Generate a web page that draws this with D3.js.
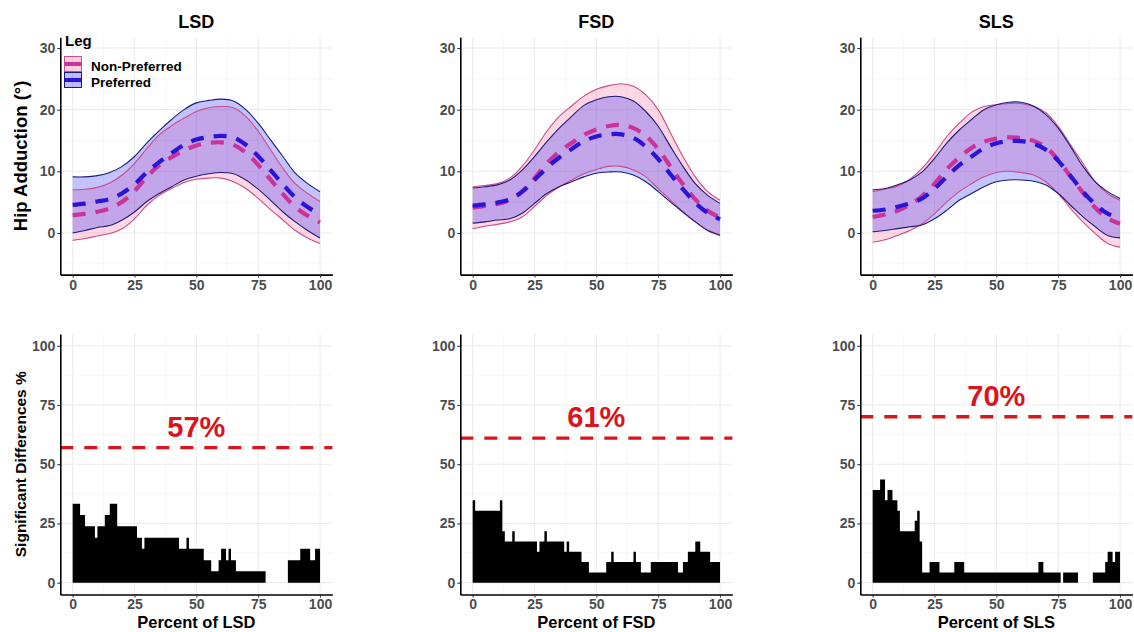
<!doctype html>
<html>
<head>
<meta charset="utf-8"/>
<title>Hip adduction LSD FSD SLS</title>
<script src="https://cdnjs.cloudflare.com/ajax/libs/d3/7.8.5/d3.min.js"></script>
<style>
  body { margin: 0; background: #fff; }
  text { font-family: "Liberation Sans", Arial, sans-serif; font-weight: bold; }
</style>
</head>
<body>
<svg width="1134" height="632"></svg>
<script>
// ---- data ----
var tasks = ["LSD", "FSD", "SLS"];
var legs = ["Non-Preferred", "Preferred"];
var pct = [0, 5, 10, 15, 20, 25, 30, 35, 40, 45, 50, 55, 60, 65, 70, 75, 80, 85, 90, 95, 100];

var lsdPrefMean = [4.55, 4.75, 5.1, 5.5, 6.45, 7.9, 9.85, 11.5, 12.95, 14.3, 15.15, 15.55, 15.75, 15.5, 14.3, 12.45, 10.2, 7.9, 5.75, 4.2, 2.95];
var lsdPrefSd   = [4.55, 4.35, 4.2, 4.3, 4.35, 4.5, 4.75, 5.1, 5.45, 5.7, 5.95, 5.95, 5.95, 5.9, 5.7, 5.35, 4.9, 4.5, 3.95, 3.8, 3.75];
var lsdNonMean  = [2.9, 3.1, 3.45, 4.0, 5.05, 6.8, 9.1, 11.0, 12.3, 13.4, 14.2, 14.6, 14.7, 14.3, 13.05, 11.05, 8.65, 6.3, 4.2, 2.8, 1.7];
var lsdNonSd    = [4.1, 4.0, 3.95, 4.1, 4.35, 4.5, 4.6, 4.9, 5.1, 5.2, 5.5, 5.7, 5.8, 6.0, 5.85, 5.45, 4.85, 4.2, 3.8, 3.6, 3.4];

var fsdPrefMean = [4.45, 4.65, 4.95, 5.45, 6.7, 8.6, 10.6, 12.25, 13.6, 14.9, 15.65, 16.0, 16.0, 15.4, 14.0, 12.0, 9.5, 7.1, 4.9, 3.25, 2.2];
var fsdPrefSd   = [2.85, 2.85, 2.85, 3.15, 3.5, 3.8, 4.2, 4.75, 5.3, 5.8, 5.95, 6.1, 6.1, 6.0, 5.7, 5.3, 4.5, 3.7, 3.1, 2.85, 2.6];
var fsdNonMean  = [4.1, 4.4, 4.7, 5.35, 6.7, 8.9, 11.3, 13.2, 14.6, 15.9, 16.8, 17.35, 17.5, 17.0, 15.75, 13.6, 10.75, 7.9, 5.45, 3.6, 2.5];
var fsdNonSd    = [3.4, 3.3, 3.3, 3.55, 4.1, 4.6, 5.2, 5.7, 6.0, 6.3, 6.5, 6.55, 6.7, 6.8, 6.65, 6.4, 5.45, 4.5, 3.65, 3.1, 2.8];

var slsPrefMean = [3.6, 3.8, 4.25, 4.8, 5.6, 7.2, 9.15, 11.0, 12.4, 13.75, 14.55, 14.9, 14.9, 14.5, 13.5, 11.7, 9.25, 6.7, 4.65, 3.15, 2.4];
var slsPrefSd   = [3.4, 3.4, 3.55, 3.8, 4.3, 4.9, 5.45, 5.7, 6.0, 6.25, 6.25, 6.3, 6.3, 6.1, 5.7, 5.3, 4.75, 4.1, 3.65, 3.55, 3.2];
var slsNonMean  = [2.6, 3.0, 3.6, 4.55, 6.0, 8.0, 10.35, 12.25, 13.8, 14.8, 15.3, 15.5, 15.4, 14.95, 13.9, 11.85, 9.15, 6.55, 4.1, 2.35, 1.5];
var slsNonSd    = [4.1, 4.1, 4.0, 4.15, 4.5, 4.9, 5.3, 5.55, 5.8, 5.7, 5.5, 5.5, 5.6, 5.55, 5.6, 5.45, 5.15, 4.75, 4.2, 4.05, 3.8];

// % of significant differences per 1% of the movement (bins 0-1 ... 99-100)
var sigLSD = [33.3, 33.3, 33.3, 28.6, 28.6, 23.8, 23.8, 23.8, 23.8, 19.0,
              23.8, 23.8, 23.8, 28.6, 28.6, 33.3, 33.3, 33.3, 23.8, 23.8,
              23.8, 23.8, 23.8, 23.8, 23.8, 23.8, 19.0, 19.0, 14.3, 19.0,
              19.0, 19.0, 19.0, 19.0, 19.0, 19.0, 19.0, 19.0, 19.0, 19.0,
              19.0, 19.0, 19.0, 14.3, 14.3, 14.3, 19.0, 14.3, 14.3, 14.3,
              14.3, 14.3, 14.3, 9.5, 9.5, 9.5, 4.8, 4.8, 4.8, 9.5,
              14.3, 14.3, 9.5, 14.3, 9.5, 9.5, 4.8, 4.8, 4.8, 4.8,
              4.8, 4.8, 4.8, 4.8, 4.8, 4.8, 4.8, 4.8, 0, 0,
              0, 0, 0, 0, 0, 0, 0, 9.5, 9.5, 9.5,
              9.5, 9.5, 14.3, 14.3, 14.3, 14.3, 9.5, 9.5, 14.3, 14.3];
var sigFSD = [34.8, 30.4, 30.4, 30.4, 30.4, 30.4, 30.4, 30.4, 30.4, 30.4,
              30.4, 34.8, 21.7, 17.4, 17.4, 17.4, 21.7, 17.4, 17.4, 17.4,
              17.4, 17.4, 17.4, 17.4, 17.4, 17.4, 13.0, 17.4, 17.4, 21.7,
              17.4, 17.4, 17.4, 17.4, 17.4, 17.4, 17.4, 13.0, 17.4, 13.0,
              13.0, 13.0, 13.0, 13.0, 8.7, 8.7, 8.7, 4.3, 4.3, 4.3,
              4.3, 4.3, 4.3, 4.3, 8.7, 8.7, 13.0, 8.7, 8.7, 8.7,
              8.7, 8.7, 8.7, 8.7, 8.7, 13.0, 8.7, 8.7, 4.3, 4.3,
              4.3, 4.3, 8.7, 8.7, 8.7, 8.7, 8.7, 8.7, 8.7, 8.7,
              8.7, 8.7, 8.7, 4.3, 4.3, 8.7, 8.7, 13.0, 13.0, 13.0,
              17.4, 17.4, 13.0, 13.0, 13.0, 13.0, 8.7, 8.7, 8.7, 8.7];
var sigSLS = [39.1, 39.1, 39.1, 43.5, 43.5, 34.8, 39.1, 39.1, 34.8, 34.8,
              30.4, 21.7, 21.7, 21.7, 21.7, 21.7, 21.7, 26.1, 30.4, 17.4,
              4.3, 4.3, 4.3, 8.7, 8.7, 8.7, 8.7, 4.3, 4.3, 4.3,
              4.3, 4.3, 4.3, 8.7, 8.7, 8.7, 8.7, 4.3, 4.3, 4.3,
              4.3, 4.3, 4.3, 4.3, 4.3, 4.3, 4.3, 4.3, 4.3, 4.3,
              4.3, 4.3, 4.3, 4.3, 4.3, 4.3, 4.3, 4.3, 4.3, 4.3,
              4.3, 4.3, 4.3, 4.3, 4.3, 4.3, 4.3, 8.7, 8.7, 4.3,
              4.3, 4.3, 4.3, 4.3, 4.3, 4.3, 0, 4.3, 4.3, 4.3,
              4.3, 4.3, 4.3, 0, 0, 0, 0, 0, 0, 4.3,
              4.3, 4.3, 4.3, 4.3, 8.7, 13.0, 13.0, 8.7, 13.0, 13.0];
var sigTotal = [57, 61, 70];

var xTicks = [0, 25, 50, 75, 100];
var yTicksTop = [0, 10, 20, 30];
var yTicksBot = [0, 25, 50, 75, 100];

// ---- layout ----
var svg = d3.select("svg");
var panelLeft = [60.3, 460.3, 860.3], panelW = 272.1;
var topRange = [274.6, 37.2], botRange = [594.5, 333.9];

var yTop = d3.scaleLinear().domain([-6.75, 31.75]).range(topRange);
var yBot = d3.scaleLinear().domain([-5, 105]).range(botRange);

var legColor = { "Non-Preferred": { fill: "#ff6699", line: "#c94c8c", mean: "#cc3399" },
                 "Preferred":     { fill: "#2222ff", line: "#1c1c78", mean: "#2a14d8" } };

var curves = [
  { "Non-Preferred": [lsdNonMean, lsdNonSd], "Preferred": [lsdPrefMean, lsdPrefSd] },
  { "Non-Preferred": [fsdNonMean, fsdNonSd], "Preferred": [fsdPrefMean, fsdPrefSd] },
  { "Non-Preferred": [slsNonMean, slsNonSd], "Preferred": [slsPrefMean, slsPrefSd] }
];
var sigs = [sigLSD, sigFSD, sigSLS];

function drawGrid(g, xs, ys, xMinor, yMajor, yMinor) {
  var x0 = xs.range()[0], x1 = xs.range()[1], y0 = ys.range()[0], y1 = ys.range()[1];
  xMinor.forEach(function (v) {
    g.append("line").attr("x1", xs(v)).attr("x2", xs(v)).attr("y1", y0).attr("y2", y1)
      .attr("stroke", "#f2f2f2").attr("stroke-width", 0.6);
  });
  yMinor.forEach(function (v) {
    g.append("line").attr("y1", ys(v)).attr("y2", ys(v)).attr("x1", x0).attr("x2", x1)
      .attr("stroke", "#f2f2f2").attr("stroke-width", 0.6);
  });
  xTicks.forEach(function (v) {
    g.append("line").attr("x1", xs(v)).attr("x2", xs(v)).attr("y1", y0).attr("y2", y1)
      .attr("stroke", "#ebebeb").attr("stroke-width", 1.1);
  });
  yMajor.forEach(function (v) {
    g.append("line").attr("y1", ys(v)).attr("y2", ys(v)).attr("x1", x0).attr("x2", x1)
      .attr("stroke", "#ebebeb").attr("stroke-width", 1.1);
  });
}

function drawAxes(g, xs, ys, yTicks) {
  var xa = g.append("g").attr("transform", "translate(0," + ys.range()[0] + ")")
    .call(d3.axisBottom(xs).tickValues(xTicks).tickSize(3).tickSizeOuter(0).tickPadding(2));
  var ya = g.append("g").attr("transform", "translate(" + xs.range()[0] + ",0)")
    .call(d3.axisLeft(ys).tickValues(yTicks).tickSize(3).tickSizeOuter(0).tickPadding(2));
  [xa, ya].forEach(function (a) {
    a.select(".domain").attr("stroke", "#000").attr("stroke-width", 1.6);
    a.selectAll(".tick line").attr("stroke", "#333").attr("stroke-width", 1.1);
    a.selectAll(".tick text").attr("fill", "#4d4d4d").style("font-size", "14px")
      .style("font-family", "'Liberation Sans', Arial, sans-serif").style("font-weight", "bold");
  });
}

tasks.forEach(function (task, i) {
  var xs = d3.scaleLinear().domain([-5, 105]).range([panelLeft[i], panelLeft[i] + panelW]);
  var cx = panelLeft[i] + panelW / 2;

  // ---------- top row: mean +/- SD ----------
  var gt = svg.append("g");
  drawGrid(gt, xs, yTop, [12.5, 37.5, 62.5, 87.5], yTicksTop, [-5, 5, 15, 25]);

  legs.forEach(function (leg) {
    var m = curves[i][leg][0], s = curves[i][leg][1];
    var pts = pct.map(function (p, k) { return { p: p, m: m[k], s: s[k] }; });
    var area = d3.area().curve(d3.curveCatmullRom.alpha(0.5))
      .x(function (d) { return xs(d.p); })
      .y0(function (d) { return yTop(d.m - d.s); })
      .y1(function (d) { return yTop(d.m + d.s); });
    gt.append("path").attr("d", area(pts))
      .attr("fill", legColor[leg].fill).attr("fill-opacity", 0.27).attr("stroke", "none");
  });
  legs.forEach(function (leg) {
    var m = curves[i][leg][0], s = curves[i][leg][1];
    var pts = pct.map(function (p, k) { return { p: p, m: m[k], s: s[k] }; });
    var up = d3.line().curve(d3.curveCatmullRom.alpha(0.5))
      .x(function (d) { return xs(d.p); }).y(function (d) { return yTop(d.m + d.s); });
    var lo = d3.line().curve(d3.curveCatmullRom.alpha(0.5))
      .x(function (d) { return xs(d.p); }).y(function (d) { return yTop(d.m - d.s); });
    [up, lo].forEach(function (ln) {
      gt.append("path").attr("d", ln(pts)).attr("fill", "none")
        .attr("stroke", legColor[leg].line).attr("stroke-width", 1.1);
    });
  });
  legs.forEach(function (leg) {
    var m = curves[i][leg][0];
    var line = d3.line().curve(d3.curveCatmullRom.alpha(0.5))
      .x(function (d, k) { return xs(pct[k]); }).y(function (d) { return yTop(d); });
    gt.append("path").attr("d", line(m)).attr("fill", "none")
      .attr("stroke", legColor[leg].mean).attr("stroke-width", 4.2)
      .attr("stroke-dasharray", "13,10");
  });
  drawAxes(gt, xs, yTop, yTicksTop);

  gt.append("text").attr("x", cx).attr("y", 28).attr("text-anchor", "middle")
    .style("font-size", "18px").attr("fill", "#000").text(task);

  // ---------- bottom row: significant differences ----------
  var gb = svg.append("g");
  drawGrid(gb, xs, yBot, [12.5, 37.5, 62.5, 87.5], yTicksBot, [12.5, 37.5, 62.5, 87.5]);

  // one step shape per panel so neighbouring bins do not leave seams
  var bins = sigs[i].map(function (v, k) { return { k: k, v: v }; });
  bins.push({ k: sigs[i].length, v: sigs[i][sigs[i].length - 1] });
  var step = d3.area().curve(d3.curveStepAfter)
    .x(function (d) { return xs(d.k); })
    .y0(yBot(0))
    .y1(function (d) { return yBot(d.v); });
  gb.append("path").attr("d", step(bins)).attr("fill", "#000").attr("stroke", "none");

  gb.append("line").attr("x1", xs.range()[0]).attr("x2", xs.range()[1])
    .attr("y1", yBot(sigTotal[i])).attr("y2", yBot(sigTotal[i]))
    .attr("stroke", "#d8141c").attr("stroke-width", 3.4).attr("stroke-dasharray", "13,11");
  gb.append("text").attr("x", xs(50)).attr("y", yBot(sigTotal[i] + 9)).attr("dy", "0.36em")
    .attr("text-anchor", "middle").attr("fill", "#d8141c").style("font-size", "29px")
    .text(sigTotal[i] + "%");

  drawAxes(gb, xs, yBot, yTicksBot);

  gb.append("text").attr("x", cx).attr("y", 628).attr("text-anchor", "middle")
    .style("font-size", "16.5px").attr("fill", "#000").text("Percent of " + task);
});

// y titles
svg.append("text").attr("transform", "translate(27," + (topRange[0] + topRange[1]) / 2 + ") rotate(-90)")
  .attr("text-anchor", "middle").style("font-size", "18.5px").text("Hip Adduction (°)");
svg.append("text").attr("transform", "translate(26," + (botRange[0] + botRange[1]) / 2 + ") rotate(-90)")
  .attr("text-anchor", "middle").style("font-size", "15.5px").text("Significant Differences %");

// legend inside the LSD panel
var lg = svg.append("g");
lg.append("text").attr("x", 65).attr("y", 46).style("font-size", "15px").text("Leg");
legs.forEach(function (leg, k) {
  var y0 = 56 + k * 16;
  lg.append("rect").attr("x", 64.5).attr("y", y0 + 0.5).attr("width", 17).attr("height", 15)
    .attr("fill", legColor[leg].fill).attr("fill-opacity", 0.3)
    .attr("stroke", legColor[leg].line).attr("stroke-width", 1);
  lg.append("line").attr("x1", 65).attr("x2", 81).attr("y1", y0 + 8).attr("y2", y0 + 8)
    .attr("stroke", legColor[leg].mean).attr("stroke-width", 4);
  lg.append("text").attr("x", 91).attr("y", y0 + 15).style("font-size", "13.5px").text(leg);
});
</script>
</body>
</html>
